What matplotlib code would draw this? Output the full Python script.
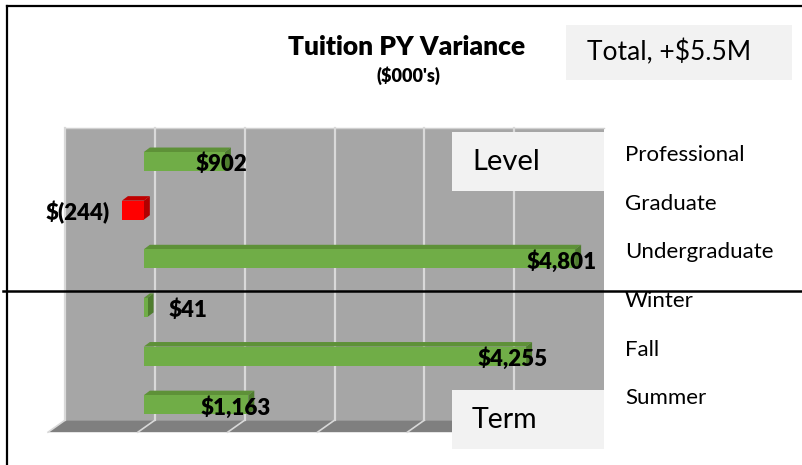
import matplotlib
import numpy as np

matplotlib.use("Agg")
import matplotlib.pyplot as plt  # noqa: E402
from matplotlib import transforms  # noqa: E402
from matplotlib.patches import Polygon, Rectangle  # noqa: E402

# chart data ($000's)
categories = ["Professional", "Graduate", "Undergraduate", "Winter", "Fall", "Summer"]
variance = [902, -244, 4801, 41, 4255, 1163]
value_labels = ["$902", "$(244)", "$4,801", "$41", "$4,255", "$1,163"]
group_names = ["Level", "Term"]
total_label = "Total, +$5.5M"
x_ticks = [-1000, 0, 1000, 2000, 3000, 4000, 5000]

W, H = 802, 465
FONT = "Lato"

fig = plt.figure(figsize=(W / 100, H / 100), dpi=100)


def fx(px):
    return px / W


def fy(py):
    return 1 - py / H


# plot area (bar plane) in pixels
left_px, right_px, top_px, bottom_px = 54, 593, 136, 428
ax = fig.add_axes([fx(left_px), fy(bottom_px), fx(right_px - left_px), (bottom_px - top_px) / H])
ax.set_xlim(x_ticks[0], x_ticks[-1])
y_top, y_bot = -0.525, 5.48
ax.set_ylim(y_bot, y_top)
ax.axis("off")

px_x = (right_px - left_px) / (x_ticks[-1] - x_ticks[0])
px_y = (bottom_px - top_px) / (y_bot - y_top)

# depth offsets (data units): back wall, floor front, bar depth
back_dx, back_dy = 11 / px_x, -7.8 / px_y
front_dx, front_dy = -6 / px_x, 4.2 / px_y
bar_dx, bar_dy = 6 / px_x, -4.5 / px_y

xa, xb = x_ticks[0], x_ticks[-1]
# back wall
ax.add_patch(Rectangle((xa + back_dx, y_top + back_dy), xb - xa, y_bot - y_top,
                       facecolor="#a6a6a6", edgecolor="none", zorder=1, clip_on=False))
ax.plot([xa + back_dx, xb + back_dx], [y_top + back_dy, y_top + back_dy],
        color="#d0d0d0", lw=1.0, zorder=2, clip_on=False)
# floor
ax.add_patch(Polygon([(xa + back_dx, y_bot + back_dy), (xb + back_dx, y_bot + back_dy),
                      (xb + front_dx, y_bot + front_dy), (xa + front_dx, y_bot + front_dy)],
                     closed=True, facecolor="#7f7f7f", edgecolor="none", zorder=1, clip_on=False))
# gridlines on wall and floor
for t in x_ticks[:-1]:
    ax.plot([t + back_dx, t + back_dx], [y_top + back_dy, y_bot + back_dy],
            color="#d9d9d9", lw=1.6, zorder=2, clip_on=False)
    ax.plot([t + back_dx, t + front_dx], [y_bot + back_dy, y_bot + front_dy],
            color="#d9d9d9", lw=1.2, zorder=2, clip_on=False)

bar_h = 19 / px_y
ypos = np.arange(len(categories))
for i, v in zip(ypos, variance):
    if v >= 0:
        front, top, side = "#70ad47", "#5e9138", "#4f7d2f"
    else:
        front, top, side = "#ff0000", "#c00000", "#b00000"
    x0, x1 = min(0, v), max(0, v)
    yt, yb = i - bar_h / 2, i + bar_h / 2
    ax.add_patch(Polygon([(x0, yt), (x1, yt), (x1 + bar_dx, yt + bar_dy), (x0 + bar_dx, yt + bar_dy)],
                         closed=True, facecolor=top, edgecolor="none", zorder=3, clip_on=False))
    ax.add_patch(Polygon([(x1, yt), (x1 + bar_dx, yt + bar_dy), (x1 + bar_dx, yb + bar_dy), (x1, yb)],
                         closed=True, facecolor=side, edgecolor="none", zorder=3, clip_on=False))
    ax.barh(i, v, left=0, height=bar_h, color=front, zorder=4, clip_on=False)

# value labels
for i, v, lab in zip(ypos, variance, value_labels):
    ly = i + 2.5 / px_y
    if v < 0:
        ax.text(v - 12 / px_x, ly, lab, ha="right", va="center", fontsize=16,
                fontweight="heavy", family=FONT, zorder=6)
    elif v < 300:
        ax.text(v + 21 / px_x, ly, lab, ha="left", va="center", fontsize=16,
                fontweight="heavy", family=FONT, zorder=6)
    else:
        ax.text(v + 22 / px_x, ly, lab, ha="right", va="center", fontsize=16,
                fontweight="heavy", family=FONT, zorder=6)

# category labels on the right
trans = transforms.blended_transform_factory(fig.transFigure, ax.transData)
for i, cat in zip(ypos, categories):
    ax.text(fx(625), i - 6.5 / px_y, cat, transform=trans, ha="left", va="center",
            fontsize=16, family=FONT, zorder=6, clip_on=False)

# title
fig.text(fx(407), fy(47), "Tuition PY Variance", ha="center", va="center",
         fontsize=19, fontweight="heavy", family=FONT)
fig.text(fx(408), fy(76), "($000's)", ha="center", va="center",
         fontsize=13, fontweight="heavy", family=FONT)


def label_box(x0, y0, x1, y1, text, size, pad):
    fig.patches.append(Rectangle((fx(x0), fy(y1)), fx(x1 - x0), (y1 - y0) / H,
                                 transform=fig.transFigure, facecolor="#f2f2f2",
                                 edgecolor="none", zorder=7))
    fig.text(fx(x0 + pad), fy((y0 + y1) / 2), text, ha="left", va="center",
             fontsize=size, family=FONT, zorder=8)


label_box(566, 25, 792, 80, total_label, 19, 21)
label_box(452, 132, 604, 191, group_names[0], 21, 20)
label_box(452, 390, 604, 449, group_names[1], 20.5, 20)

# border and separator lines
fig.add_artist(plt.Line2D([fx(7), fx(7)], [fy(6), 0], color="black", lw=1.6))
fig.add_artist(plt.Line2D([fx(7), 1], [fy(6), fy(6)], color="black", lw=1.6))
fig.add_artist(plt.Line2D([fx(3), 1], [fy(291), fy(291)], color="black", lw=1.8, zorder=9))

fig.savefig("out.png", dpi=100)
plt.close(fig)
